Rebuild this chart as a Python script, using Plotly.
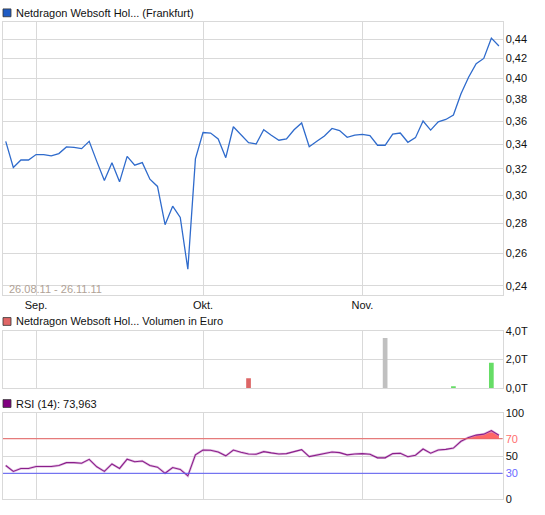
import pandas as pd
import plotly.graph_objects as go

# trading days shown (26.08.11 - 26.11.11)
dates = [d.strftime("%Y-%m-%d") for d in pd.bdate_range("2011-08-26", "2011-11-25")]

price = [0.3425, 0.3211, 0.3271, 0.3271, 0.3315, 0.3315, 0.3304, 0.3323, 0.3378, 0.3375,
         0.3364, 0.3425, 0.3260, 0.3110, 0.3250, 0.3100, 0.3300, 0.3230, 0.3250, 0.3120,
         0.3065, 0.2790, 0.2920, 0.2840, 0.2500, 0.3280, 0.3500, 0.3495, 0.3445, 0.3290,
         0.3550, 0.3482, 0.3414, 0.3403, 0.3524, 0.3476, 0.3434, 0.3445, 0.3524, 0.3583,
         0.3379, 0.3425, 0.3470, 0.3535, 0.3517, 0.3459, 0.3478, 0.3484, 0.3473, 0.3392,
         0.3392, 0.3487, 0.3496, 0.3417, 0.3456, 0.3600, 0.3521, 0.3594, 0.3614, 0.3654,
         0.3850, 0.4010, 0.4146, 0.4200, 0.4415, 0.4330]

rsi = [39.0, 32.2, 35.6, 35.6, 37.8, 37.8, 37.8, 39.0, 42.3, 42.3,
       41.6, 46.1, 37.5, 32.2, 40.8, 35.6, 46.4, 43.4, 44.2, 39.0,
       37.1, 30.0, 36.7, 34.5, 27.0, 51.3, 56.9, 56.6, 54.7, 50.2,
       56.9, 54.3, 52.4, 52.1, 55.1, 53.6, 52.4, 52.8, 55.1, 57.3,
       49.4, 51.3, 52.4, 54.7, 53.9, 51.3, 52.4, 52.8, 52.1, 47.9,
       47.9, 52.8, 53.2, 49.1, 50.9, 58.1, 53.2, 56.9, 57.7, 59.2,
       67.0, 71.5, 74.2, 75.3, 79.4, 73.963]

vol_dates = ["2011-10-11", "2011-11-04", "2011-11-17", "2011-11-24"]
vol_values = [690, 3500, 140, 1780]  # Euro
vol_colors = ["#dd6666", "#c0c0c0", "#66dd66", "#66dd66"]

month_dates = ["2011-09-01", "2011-10-03", "2011-11-01"]
month_labels = ["Sep.", "Okt.", "Nov."]

price_ticks = [0.24, 0.26, 0.28, 0.30, 0.32, 0.34, 0.36, 0.38, 0.40, 0.42, 0.44]
vol_ticks = [0, 2000, 4000]
vol_ticktext = ["0,0T", "2,0T", "4,0T"]
rsi_ticks = [0, 30, 50, 70, 100]
rsi_ticktext = ["0", "<span style='color:#6a6aff'>30</span>", "50",
                "<span style='color:#ff6e6e'>70</span>", "100"]

W, H = 545, 515
GRID = "#d9d9d9"
FONT = "Liberation Sans"


def py(p):
    return 1 - p / H


def px_(p):
    return p / W


fig = go.Figure()

fig.add_trace(go.Scatter(x=dates, y=price, mode="lines", line=dict(color="#2f6bcc", width=1.3),
                         xaxis="x", yaxis="y", hoverinfo="x+y"))

fig.add_trace(go.Bar(x=vol_dates, y=vol_values, marker=dict(color=vol_colors, line_width=0),
                     width=0.62, xaxis="x2", yaxis="y2"))

# RSI overbought fill
fig.add_trace(go.Scatter(x=dates, y=[70] * len(dates), mode="lines", line=dict(width=0),
                         xaxis="x3", yaxis="y3", hoverinfo="skip"))
fig.add_trace(go.Scatter(x=dates, y=[max(v, 70) for v in rsi], mode="lines", line=dict(width=0),
                         fill="tonexty", fillcolor="#ff6666", xaxis="x3", yaxis="y3", hoverinfo="skip"))
fig.add_trace(go.Scatter(x=dates, y=rsi, mode="lines", line=dict(color="rgba(210,150,210,0.6)", width=2.4),
                         xaxis="x3", yaxis="y3", hoverinfo="skip"))
fig.add_trace(go.Scatter(x=dates, y=rsi, mode="lines", line=dict(color="#8a1f8a", width=1.1),
                         xaxis="x3", yaxis="y3"))

xdom = [px_(3), px_(502.5)]
xrange = [-0.36, len(dates) - 1 + 0.47]
xcommon = dict(type="category", categoryorder="array", categoryarray=dates, range=xrange,
               domain=xdom, tickvals=month_dates, showgrid=True, gridcolor=GRID, gridwidth=1,
               showline=True, linecolor=GRID, mirror=True, zeroline=False, ticks="")

axfont = dict(family=FONT, size=11, color="#111111")

fig.update_layout(
    width=W, height=H, margin=dict(l=0, r=0, t=0, b=0),
    paper_bgcolor="white", plot_bgcolor="white",
    showlegend=False, separators=",.",
    font=dict(family=FONT, size=11, color="#111111"),
    xaxis=dict(xcommon, anchor="y", ticktext=month_labels, tickfont=axfont, showticklabels=True),
    xaxis2=dict(xcommon, anchor="y2", showticklabels=False, matches="x"),
    xaxis3=dict(xcommon, anchor="y3", showticklabels=False, matches="x"),
    yaxis=dict(domain=[py(296), py(16)], type="log", range=[-0.6297, -0.3374], side="right",
               tickvals=price_ticks, tickformat=".2f", tickfont=axfont, showgrid=True, gridcolor=GRID,
               showline=True, linecolor=GRID, mirror=True, zeroline=False, anchor="x", ticks=""),
    yaxis2=dict(domain=[py(391.3), py(332.7)], range=[0, 4000], side="right",
                tickvals=vol_ticks, ticktext=vol_ticktext, tickfont=axfont, showgrid=True, gridcolor=GRID,
                showline=True, linecolor=GRID, mirror=True, zeroline=False, anchor="x2", ticks=""),
    yaxis3=dict(domain=[py(505), py(416.5)], range=[0, 100], side="right",
                tickvals=rsi_ticks, ticktext=rsi_ticktext, tickfont=axfont, showgrid=True, gridcolor=GRID,
                showline=True, linecolor=GRID, mirror=True, zeroline=False, anchor="x3", ticks=""),
)

# RSI reference lines
fig.add_shape(type="line", xref="x3 domain", yref="y3", x0=0, x1=1, y0=70, y1=70,
              line=dict(color="#e86060", width=1))
fig.add_shape(type="line", xref="x3 domain", yref="y3", x0=0, x1=1, y0=30, y1=30,
              line=dict(color="#5a5af5", width=1))

# panel titles with coloured squares
titles = [("Netdragon Websoft Hol... (Frankfurt)", "#1f5cc4", 7),
          ("Netdragon Websoft Hol... Volumen in Euro", "#e06666", 323),
          ("RSI (14): 73,963", "#800080", 407)]
for text, col, yc in titles:
    fig.add_shape(type="rect", xref="paper", yref="paper",
                  x0=px_(3), x1=px_(11), y0=py(yc + 4), y1=py(yc - 4),
                  fillcolor=col, line=dict(color="#333333", width=0.8))
    fig.add_annotation(text=text, xref="paper", yref="paper", x=px_(14), y=py(yc),
                       xanchor="left", yanchor="middle", showarrow=False,
                       font=dict(family=FONT, size=11, color="#111111"))

fig.add_annotation(text="26.08.11 - 26.11.11", xref="paper", yref="paper", x=px_(7), y=py(290),
                   xanchor="left", yanchor="middle", showarrow=False,
                   font=dict(family=FONT, size=11, color="#b0a296"))

fig.write_html("out.html", config={"displayModeBar": False},
               post_script="document.body.style.margin='0';")
